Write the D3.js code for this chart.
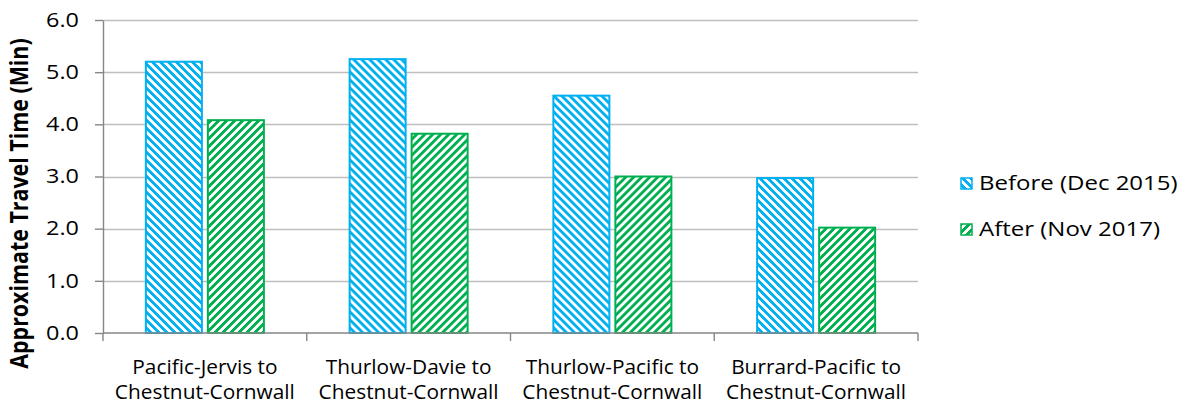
<!DOCTYPE html>
<html>
<head>
<meta charset="utf-8">
<script src="https://cdn.jsdelivr.net/npm/d3@7"></script>
<style>
  html, body { margin: 0; padding: 0; background: #fff; }
  svg { display: block; }
  text { font-family: "Open Sans", sans-serif; fill: #000; }
</style>
</head>
<body>
<svg id="chart" width="1184" height="407"></svg>
<script>
// Travel times (minutes) before and after, per route
const routes = [
  ["Pacific-Jervis to", "Chestnut-Cornwall"],
  ["Thurlow-Davie to", "Chestnut-Cornwall"],
  ["Thurlow-Pacific to", "Chestnut-Cornwall"],
  ["Burrard-Pacific to", "Chestnut-Cornwall"]
];
const seriesNames = ["Before (Dec 2015)", "After (Nov 2017)"];
const beforeValues = [5.2, 5.25, 4.55, 2.97];
const afterValues = [4.08, 3.82, 3.0, 2.02];
const yTicks = [0, 1, 2, 3, 4, 5, 6];
const yTitle = "Approximate Travel Time (Min)";

const colors = ["#00b0f0", "#00b050"];
const textScaleX = 1.2;

const svg = d3.select("#chart");
const margin = { left: 103, right: 266, top: 20, bottom: 74 };
const W = 1184, H = 407;

// Striped fills: "\" stripes for the first series, "/" for the second
const defs = svg.append("defs");
function stripePattern(id, color, dir) {
  const p = defs.append("pattern")
    .attr("id", id).attr("patternUnits", "userSpaceOnUse")
    .attr("width", 8).attr("height", 8);
  p.append("rect").attr("width", 8).attr("height", 8).attr("fill", "#fff");
  for (let y = 0; y < 8; y++) {
    for (let x = 0; x < 8; x++) {
      const k = dir > 0 ? ((x - y) % 8 + 8) % 8 : (x + y) % 8;
      if (k < 4) {
        p.append("rect").attr("x", x).attr("y", y)
          .attr("width", 1).attr("height", 1)
          .attr("fill", color).attr("shape-rendering", "crispEdges");
      }
    }
  }
}
stripePattern("stripeBefore", colors[0], 1);
stripePattern("stripeAfter", colors[1], -1);

const x0 = d3.scaleBand()
  .domain(d3.range(routes.length))
  .range([margin.left, W - margin.right])
  .paddingInner(0.411)
  .paddingOuter(0.2055);

const x1 = d3.scaleBand()
  .domain([0, 1])
  .range([0, x0.bandwidth()])
  .paddingInner(0.0645);

const y = d3.scaleLinear()
  .domain([0, 6])
  .range([H - margin.bottom, margin.top]);

// Horizontal gridlines
svg.append("g")
  .selectAll("line")
  .data(yTicks.slice(1))
  .join("line")
  .attr("x1", margin.left).attr("x2", W - margin.right)
  .attr("y1", d => Math.round(y(d)) + 0.5).attr("y2", d => Math.round(y(d)) + 0.5)
  .attr("stroke", "#bebebe").attr("stroke-width", 1.4);

// Bars
const values = [beforeValues, afterValues];
const fills = ["url(#stripeBefore)", "url(#stripeAfter)"];
const groups = svg.append("g").selectAll("g")
  .data(routes.map((r, i) => i))
  .join("g")
  .attr("transform", i => `translate(${x0(i)},0)`);
groups.selectAll("rect")
  .data(i => values.map((v, s) => ({ s, v: v[i] })))
  .join("rect")
  .attr("x", d => x1(d.s) + 1)
  .attr("width", x1.bandwidth() - 2)
  .attr("y", d => y(d.v))
  .attr("height", d => y(0) - y(d.v))
  .attr("fill", d => fills[d.s])
  .attr("stroke", d => colors[d.s])
  .attr("stroke-width", 2);

// Y axis
const yAxis = svg.append("g")
  .attr("transform", `translate(${margin.left},0)`)
  .call(d3.axisLeft(y).tickValues(yTicks).tickFormat(d3.format(".1f")).tickSize(8).tickSizeOuter(0));
yAxis.select(".domain").attr("stroke", "#868686").attr("stroke-width", 1.4);
yAxis.selectAll(".tick line").attr("stroke", "#868686").attr("stroke-width", 1.4);
yAxis.selectAll(".tick text")
  .attr("x", 0).attr("dy", "0.32em")
  .attr("transform", `translate(-24,0) scale(${textScaleX},1)`)
  .style("font-size", "19.5px").style("font-family", "'Open Sans', sans-serif")
  .attr("fill", "#000");

// X axis baseline and category boundary ticks
const xAxisG = svg.append("g");
xAxisG.append("line")
  .attr("x1", margin.left).attr("x2", W - margin.right)
  .attr("y1", y(0)).attr("y2", y(0))
  .attr("stroke", "#868686").attr("stroke-width", 1.4);
const boundaries = d3.range(routes.length + 1).map(i => margin.left + i * x0.step());
xAxisG.selectAll("line.tk")
  .data(boundaries)
  .join("line")
  .attr("class", "tk")
  .attr("x1", d => d).attr("x2", d => d)
  .attr("y1", y(0)).attr("y2", y(0) + 8)
  .attr("stroke", "#868686").attr("stroke-width", 1.4);

// Category labels, two lines per route
const catGroups = svg.append("g").selectAll("g")
  .data(routes)
  .join("g")
  .attr("transform", (d, i) => `translate(${x0(i) + x0.bandwidth() / 2},0)`);
catGroups.selectAll("text")
  .data(d => d)
  .join("text")
  .attr("transform", (d, j) => `translate(0,${374 + j * 25}) scale(1.07,1)`)
  .attr("text-anchor", "middle")
  .style("font-size", "19.5px")
  .text(d => d);

// Y axis title
svg.append("text")
  .attr("transform", `translate(28,${(y(0) + y(6)) / 2 + 27}) scale(${textScaleX},1) rotate(-90)`)
  .attr("text-anchor", "middle")
  .style("font-size", "21.4px")
  .style("font-weight", "bold")
  .text(yTitle);

// Legend
const legend = svg.append("g").selectAll("g")
  .data(seriesNames)
  .join("g")
  .attr("transform", (d, i) => `translate(960,${177 + i * 46})`);
legend.append("rect")
  .attr("x", 1).attr("y", 1).attr("width", 11).attr("height", 11)
  .attr("fill", (d, i) => fills[i])
  .attr("stroke", (d, i) => colors[i])
  .attr("stroke-width", 1.5);
legend.append("text")
  .attr("transform", `translate(19,13) scale(${textScaleX},1)`)
  .style("font-size", "20px")
  .text(d => d);
</script>
</body>
</html>
